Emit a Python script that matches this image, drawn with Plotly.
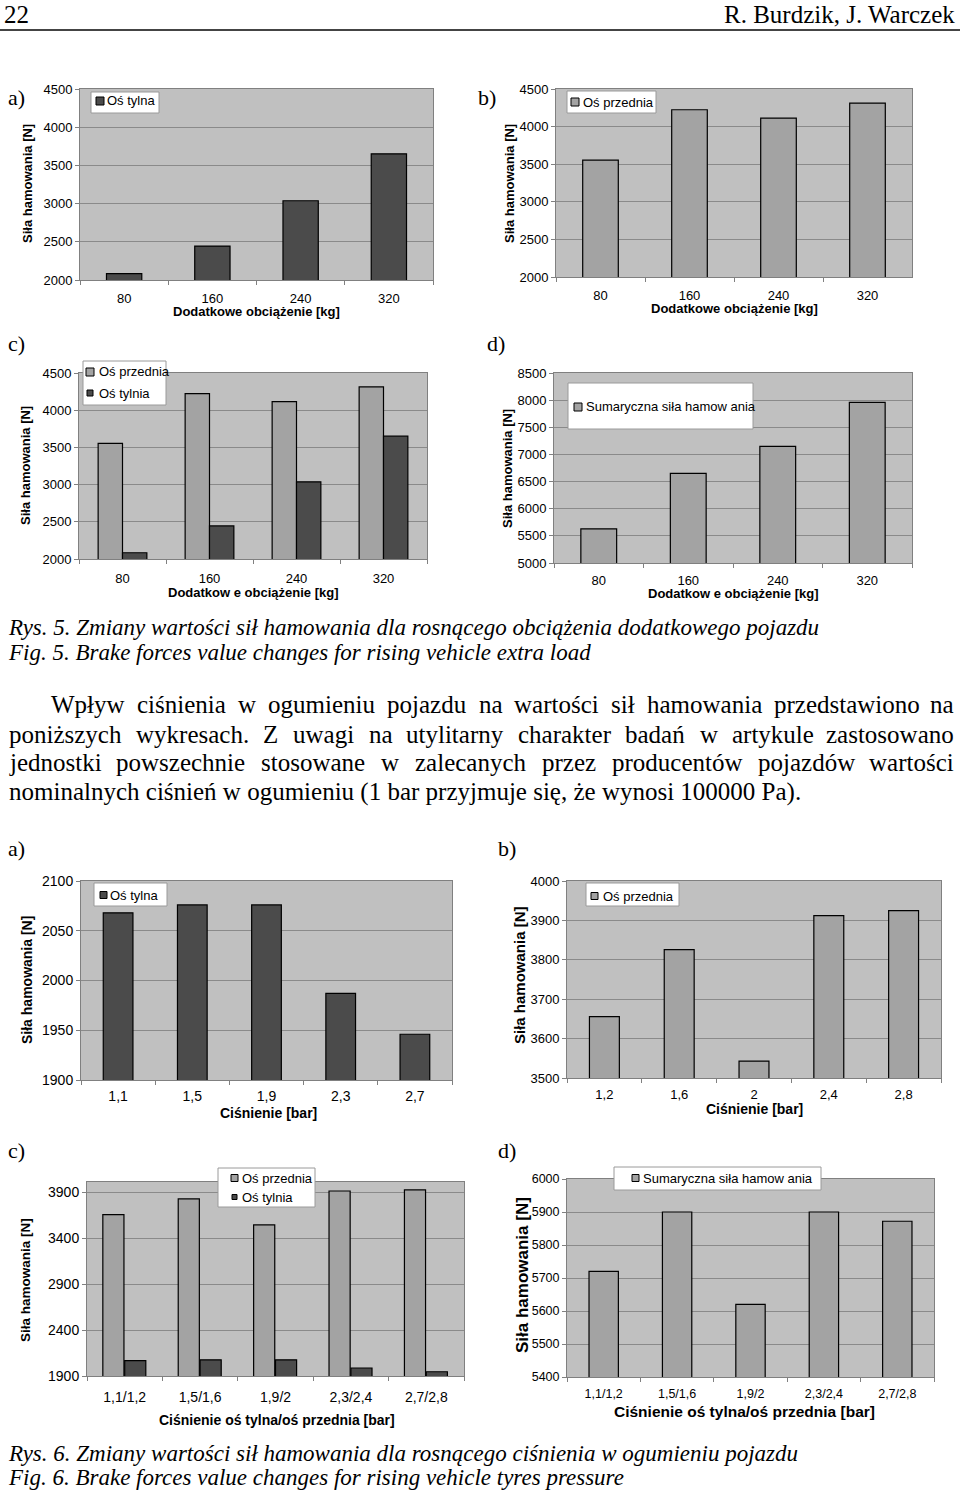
import plotly.graph_objects as go

W, H = 960, 1491

# ---------------- data ----------------
load_cats = ["80", "160", "240", "320"]
load_rear = [2084, 2444, 3037, 3651]
load_front = [3554, 4224, 4114, 4313]
load_total = [5630, 6650, 7150, 7960]

press_rear_cats = ["1,1", "1,5", "1,9", "2,3", "2,7"]
press_front_cats = ["1,2", "1,6", "2", "2,4", "2,8"]
press_pair_cats = ["1,1/1,2", "1,5/1,6", "1,9/2", "2,3/2,4", "2,7/2,8"]
press_rear = [2068, 2076, 2076, 1987, 1946]
press_front = [3656, 3826, 3543, 3912, 3925]
press_total = [5720, 5900, 5620, 5900, 5872]

LIGHT = "#a3a3a3"
DARK = "#4b4b4b"
BG = "#c0c0c0"
GRID = "#8a8a8a"
SANS = "Liberation Sans"
SERIF = "Liberation Serif"


def px(x):
    return x / W


def py(y):
    return 1 - y / H


fig = go.Figure()
annotations = []
shapes = []

# panel specs: box=(L,T,R,B)
panels = [
    dict(box=(80, 89, 433, 280), rng=[2000, 4500], dtick=500, tf=13, cats=load_cats,
         series=[(load_rear, DARK, None)], lab=20,
         ytitle=(28, 184, 13), xtitle=("Dodatkowe obciążenie [kg]", 256, 311, 13),
         legend=dict(box=(91, 92, 159, 113), items=[("Oś tylna", DARK, 101, 96, 8)], tx=107)),
    dict(box=(556, 89, 912, 277), rng=[2000, 4500], dtick=500, tf=13, cats=load_cats,
         series=[(load_front, LIGHT, None)], lab=20,
         ytitle=(509, 183, 13), xtitle=("Dodatkowe obciążenie [kg]", 734, 308, 13),
         legend=dict(box=(567, 91, 656, 113), items=[("Oś przednia", LIGHT, 102, 571, 8)], tx=583)),
    dict(box=(79, 373, 427, 559), rng=[2000, 4500], dtick=500, tf=13, cats=load_cats,
         series=[(load_front, LIGHT, -0.28), (load_rear, DARK, 0.0)], lab=21,
         ytitle=(26, 466, 13), xtitle=("Dodatkow e obciążenie [kg]", 253, 592, 13),
         legend=dict(box=(83, 361, 166, 405),
                     items=[("Oś przednia", LIGHT, 372, 86, 8), ("Oś tylnia", DARK, 393, 87, 6)], tx=99)),
    dict(box=(554, 373, 912, 563), rng=[5000, 8500], dtick=500, tf=13, cats=load_cats,
         series=[(load_total, LIGHT, None)], lab=19,
         ytitle=(507, 468, 13), xtitle=("Dodatkow e obciążenie [kg]", 733, 593, 13),
         legend=dict(box=(568, 383, 753, 429), items=[("Sumaryczna siła hamow ania", LIGHT, 407, 574, 8)], tx=586)),
    dict(box=(81, 881, 452, 1080), rng=[1900, 2100], dtick=50, tf=14, cats=press_rear_cats,
         series=[(press_rear, DARK, None)], lab=18,
         ytitle=(27, 980, 14), xtitle=("Ciśnienie [bar]", 268, 1113, 14),
         legend=dict(box=(94, 883, 167, 906), items=[("Oś tylna", DARK, 895, 100, 7)], tx=110)),
    dict(box=(567, 881, 941, 1078), rng=[3500, 4000], dtick=100, tf=13, cats=press_front_cats,
         series=[(press_front, LIGHT, None)], lab=18,
         ytitle=(520, 975, 15), xtitle=("Ciśnienie [bar]", 754, 1109, 14),
         legend=dict(box=(586, 883, 679, 906), items=[("Oś przednia", LIGHT, 896, 591, 7)], tx=603)),
    dict(box=(87, 1182, 464, 1376), rng=[1900, 4010], dtick=500, tf=14, cats=press_pair_cats,
         series=[(press_front, LIGHT, -0.29), (press_rear, DARK, 0.0)], lab=23,
         ytitle=(25, 1280, 13.5), xtitle=("Ciśnienie oś tylna/oś przednia [bar]", 277, 1420, 14),
         legend=dict(box=(218, 1168, 315, 1207),
                     items=[("Oś przednia", LIGHT, 1178, 231, 7), ("Oś tylnia", DARK, 1197, 232, 5)], tx=242)),
    dict(box=(567, 1179, 934, 1377), rng=[5400, 6000], dtick=100, tf=12.5, cats=press_pair_cats,
         series=[(press_total, LIGHT, None)], lab=19,
         ytitle=(522, 1275, 17), xtitle=("Ciśnienie oś tylna/oś przednia [bar]", 744, 1411, 15.5),
         legend=dict(box=(614, 1167, 821, 1190), items=[("Sumaryczna siła hamow ania", LIGHT, 1178, 632, 7)], tx=643)),
]

for i, p in enumerate(panels, start=1):
    L, T, R, B = p["box"]
    xa = "x" if i == 1 else f"x{i}"
    ya = "y" if i == 1 else f"y{i}"
    for vals, col, off in p["series"]:
        kw = dict(width=0.4) if off is None else dict(width=0.28, offset=off)
        fig.add_trace(go.Bar(
            x=p["cats"], y=vals, xaxis=xa, yaxis=ya, showlegend=False,
            marker=dict(color=col, line=dict(color="black", width=1.2)), **kw))
    standoff = int(round(max(0, p["lab"] - (4 + 3 + p["tf"] * 0.55))))
    fig.layout[f"xaxis{'' if i == 1 else i}"] = dict(
        domain=[px(L), px(R)], anchor=ya, type="category", tickson="boundaries",
        ticks="outside", ticklen=4, tickcolor="#808080", showgrid=False,
        showline=True, linecolor="#808080", linewidth=1, mirror=True,
        tickfont=dict(family=SANS, size=p["tf"], color="black"),
        ticklabelstandoff=standoff, fixedrange=True)
    fig.layout[f"yaxis{'' if i == 1 else i}"] = dict(
        domain=[py(B), py(T)], anchor=xa, range=p["rng"], tick0=p["rng"][0], dtick=p["dtick"],
        ticks="outside", ticklen=4, tickcolor="#808080", showgrid=True, gridcolor=GRID,
        gridwidth=1, showline=True, linecolor="#808080", linewidth=1, mirror=True,
        zeroline=False, tickfont=dict(family=SANS, size=p["tf"], color="black"), fixedrange=True)
    # axis titles
    yx, yy, ys = p["ytitle"]
    annotations.append(dict(text="<b>Siła hamowania [N]</b>", x=px(yx), y=py(yy), xref="paper", yref="paper",
                            textangle=-90, showarrow=False, xanchor="center", yanchor="middle",
                            font=dict(family=SANS, size=ys, color="black")))
    t, tx_, ty_, ts = p["xtitle"]
    annotations.append(dict(text=f"<b>{t}</b>", x=px(tx_), y=py(ty_), xref="paper", yref="paper",
                            showarrow=False, xanchor="center", yanchor="middle",
                            font=dict(family=SANS, size=ts, color="black")))
    # legend box
    lg = p["legend"]
    bl, bt, br, bb = lg["box"]
    shapes.append(dict(type="rect", xref="paper", yref="paper", x0=px(bl), x1=px(br), y0=py(bb), y1=py(bt),
                       fillcolor="white", line=dict(color="#9a9a9a", width=1), layer="above"))
    for name, col, cy, mx, ms in lg["items"]:
        shapes.append(dict(type="rect", xref="paper", yref="paper", x0=px(mx), x1=px(mx + ms),
                           y0=py(cy + ms / 2), y1=py(cy - ms / 2), fillcolor=col,
                           line=dict(color="black", width=1), layer="above"))
        annotations.append(dict(text=name, x=px(lg["tx"] - 2), y=py(cy), xref="paper", yref="paper",
                                showarrow=False, xanchor="left", yanchor="middle",
                                font=dict(family=SANS, size=13, color="black")))

# panel letters
letters = [("a)", 8, 97), ("b)", 478, 97), ("c)", 8, 343), ("d)", 487, 343),
           ("a)", 8, 848), ("b)", 498, 848), ("c)", 8, 1150), ("d)", 498, 1150)]
for t, x, y in letters:
    annotations.append(dict(text=t, x=px(x - 2), y=py(y), xref="paper", yref="paper", showarrow=False,
                            xanchor="left", yanchor="middle", font=dict(family=SERIF, size=22, color="black")))

# header
annotations.append(dict(text="22", x=px(2), y=py(14), xref="paper", yref="paper", showarrow=False,
                        xanchor="left", yanchor="middle", font=dict(family=SERIF, size=25, color="black")))
annotations.append(dict(text="R. Burdzik, J. Warczek", x=px(957), y=py(14), xref="paper", yref="paper",
                        showarrow=False, xanchor="right", yanchor="middle",
                        font=dict(family=SERIF, size=25, color="black")))
shapes.append(dict(type="line", xref="paper", yref="paper", x0=0, x1=1, y0=py(30), y1=py(30),
                   line=dict(color="#444444", width=2)))

# captions
captions = [
    ("Rys. 5. Zmiany wartości sił hamowania dla rosnącego obciążenia dodatkowego pojazdu", 627),
    ("Fig. 5. Brake forces value changes for rising vehicle extra load", 652),
    ("Rys. 6. Zmiany wartości sił hamowania dla rosnącego ciśnienia w ogumieniu pojazdu", 1453),
    ("Fig. 6. Brake forces value changes for rising vehicle tyres pressure", 1477),
]
for t, y in captions:
    annotations.append(dict(text=f"<i>{t}</i>", x=px(6), y=py(y), xref="paper", yref="paper", showarrow=False,
                            xanchor="left", yanchor="middle", font=dict(family=SERIF, size=23, color="black")))

# body paragraph (justified)
TW = {' ': 250, 'a': 444, 'b': 500, 'c': 444, 'd': 500, 'e': 444, 'f': 333, 'g': 500, 'h': 500, 'i': 278,
      'j': 278, 'k': 500, 'l': 278, 'm': 778, 'n': 500, 'o': 500, 'p': 500, 'q': 500, 'r': 333, 's': 389,
      't': 278, 'u': 500, 'v': 500, 'w': 722, 'x': 500, 'y': 500, 'z': 444, 'ł': 278, 'ś': 389, 'ń': 500,
      'ż': 444, 'ę': 444, 'ą': 444, 'ó': 500, 'ć': 444, 'W': 944, 'Z': 611, 'P': 556, '(': 333, ')': 333,
      '.': 250, ',': 250, '0': 500, '1': 500}
BODY = 25


def tw(s):
    return sum(TW.get(c, 500) for c in s) / 1000 * BODY


body = [
    ("Wpływ ciśnienia w ogumieniu pojazdu na wartości sił hamowania przedstawiono na", 50, 955, 704, True),
    ("poniższych wykresach. Z uwagi na utylitarny charakter badań w artykule zastosowano", 8, 955, 734, True),
    ("jednostki powszechnie stosowane w zalecanych przez producentów pojazdów wartości", 8, 955, 763, True),
    ("nominalnych ciśnień w ogumieniu (1 bar przyjmuje się, że wynosi 100000 Pa).", 8, 955, 792, False),
]
for line, left, right, y, just in body:
    words = line.split(" ")
    if just:
        total = sum(tw(w) for w in words)
        gap = (right - left - total) / (len(words) - 1)
        x = left
        for k, w in enumerate(words):
            last = k == len(words) - 1
            annotations.append(dict(text=w, x=px(right + 1 if last else x - 1), y=py(y), xref="paper",
                                    yref="paper", showarrow=False, xanchor="right" if last else "left",
                                    yanchor="middle", font=dict(family=SERIF, size=BODY, color="black")))
            x += tw(w) + gap
    else:
        annotations.append(dict(text=line, x=px(left - 1), y=py(y), xref="paper", yref="paper", showarrow=False,
                                xanchor="left", yanchor="middle", font=dict(family=SERIF, size=BODY, color="black")))

fig.update_layout(
    width=W, height=H, autosize=False,
    margin=dict(l=0, r=0, t=0, b=0, pad=0, autoexpand=False),
    paper_bgcolor="white", plot_bgcolor=BG, barmode="group", showlegend=False,
    annotations=annotations, shapes=shapes,
    font=dict(family=SANS, color="black"),
)
fig.write_html(
    "out.html",
    config={"displayModeBar": False},
    post_script=(
        "document.documentElement.style.margin='0px';"
        "document.documentElement.style.overflow='hidden';"
        "document.body.style.margin='0px';document.body.style.padding='0px';"
        "document.body.style.overflow='hidden';"
        "var d=document.getElementById('{plot_id}');"
        "d.style.position='fixed';d.style.top='0px';d.style.left='0px';"
    ),
)
